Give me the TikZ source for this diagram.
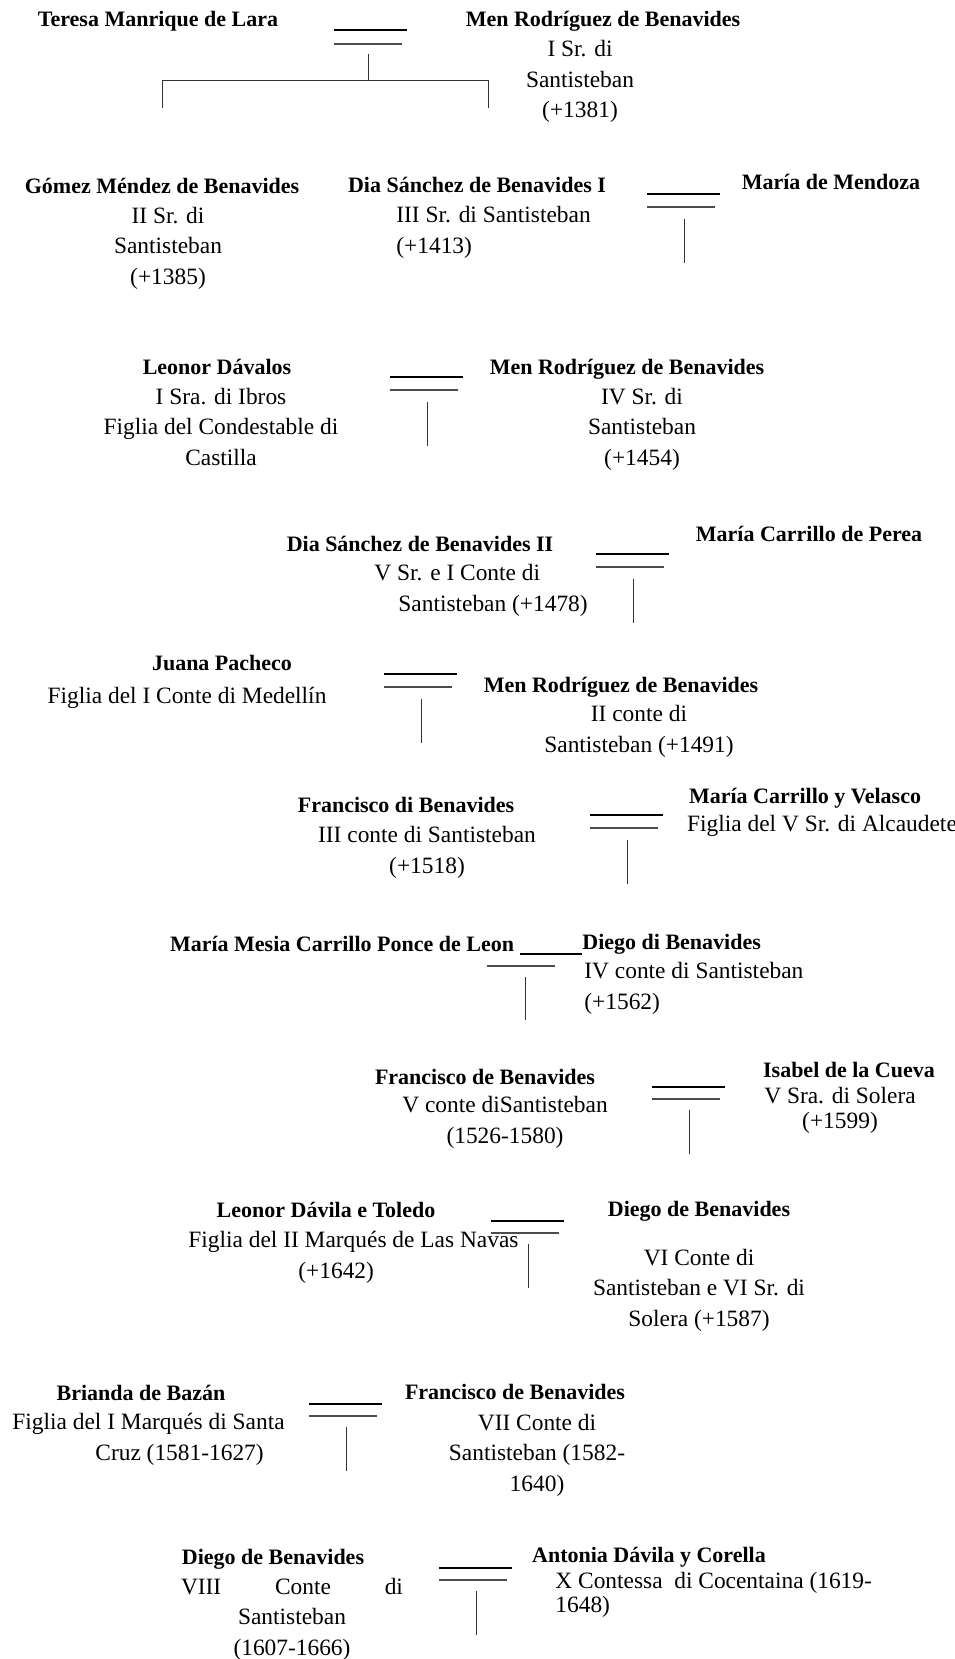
\documentclass[tikz,border=0pt]{standalone}
\usepackage{fontspec}
\setmainfont{Liberation Serif}
\usetikzlibrary{calc,positioning}
\tikzstyle{member}=[
  font={\bfseries\fontsize{11}{15.25}\selectfont},
  inner sep=0pt,
  anchor=base,
]
\tikzstyle{memberinfo}=[
  font={\fontsize{11.7}{15.25}\selectfont},
  inner sep=0pt,
  anchor=base,
  align=center,
]
\tikzstyle{wedding}=[
  draw=black,
  line width=1pt,
]
\tikzstyle{weddingthin}=[
  draw=black!70,
  line width=.6pt,
]
\tikzstyle{descent}=[
  draw=black!80,
  line width=.5pt,
]
\tikzset{
  x=.5pt,
  y=-.5pt,
}
\begin{document}
\begin{tikzpicture}
  \path [use as bounding box, fill=white] (0,0) rectangle (954,1659);
  %% I
  \node (teresa) [member] at (158,27) {Teresa Manrique de Lara};
  \node (men1) [member] at (603,27) {Men Rodríguez de Benavides};
  \node (men1info) [memberinfo] at (580,118) {I Sr. di\\Santisteban\\(+1381)};
  \coordinate (w1) at (334,30);
  \draw [wedding] (w1) -- ++(73,0);
  \draw [weddingthin] ($(w1)+(0,14)$) -- ++(68,0);
  \coordinate (t1) at ($(w1)+(34,24)$);
  \coordinate (t2) at ($(w1)+(34,51)$);
  \coordinate (tl) at (162,81);
  \coordinate (tr) at (488,81);
  \draw [descent] (t1) -- (t2);
  \draw [descent] ($(tl)+(0,27)$) -- (tl) -- (tr) -- ($(tr)+(0,27)$);
  %% II
  \node (gomez) [member] at (162,193) {Gómez Méndez de Benavides};
  \node (gomezinfo) [memberinfo] at (168,284) {II Sr. di\\Santisteban\\(+1385)};
  \node (dia1) [member] at (477,192) {Dia Sánchez de Benavides I};
  \node (dia1info) [memberinfo, align=left, anchor=base west] at (396,253) {III Sr. di Santisteban\\(+1413)};
  \node (mendoza) [member] at (831,189) {María de Mendoza};
  \coordinate (w2) at (647,194);
  \draw [wedding] (w2) -- ++(73,0);
  \draw [weddingthin] ($(w2)+(0,13)$) -- ++(68,0);
  \draw [descent] ($(w2)+(37,25)$) -- ++(0,44);
  %% III
  \node (leonor1) [member] at (217,374) {Leonor Dávalos};
  \node (leonor1info) [memberinfo] at (221,465) {I Sra. di Ibros\\Figlia del Condestable di\\Castilla};
  \node (men3) [member] at (627,374) {Men Rodríguez de Benavides};
  \node (men3info) [memberinfo] at (642,465) {IV Sr. di\\Santisteban\\(+1454)};
  \coordinate (w3) at (390,377);
  \draw [wedding] (w3) -- ++(73,0);
  \draw [weddingthin] ($(w3)+(0,13)$) -- ++(68,0);
  \draw [descent] ($(w3)+(37,25)$) -- ++(0,44);
  %% IV
  \node (dia2) [member] at (420,551) {Dia Sánchez de Benavides II};
  \node (dia2info) [memberinfo, align=left, anchor=base west] at (374,611) {V Sr. e I Conte di\\\hspace*{12pt}Santisteban (+1478)};
  \node (perea) [member] at (809,541) {María Carrillo de Perea};
  \coordinate (w4) at (596,554);
  \draw [wedding] (w4) -- ++(73,0);
  \draw [weddingthin] ($(w4)+(0,13)$) -- ++(68,0);
  \draw [descent] ($(w4)+(37,25)$) -- ++(0,44);
  %% V
  \node (juana) [member] at (222,670) {Juana Pacheco};
  \node (juanainfo) [memberinfo] at (187,703) {Figlia del I Conte di Medellín};
  \node (men5) [member] at (621,692) {Men Rodríguez de Benavides};
  \node (men5info) [memberinfo] at (639,752) {II conte di\\Santisteban (+1491)};
  \coordinate (w5) at (384,674);
  \draw [wedding] (w5) -- ++(73,0);
  \draw [weddingthin] ($(w5)+(0,13)$) -- ++(68,0);
  \draw [descent] ($(w5)+(37,25)$) -- ++(0,44);
  %% VI
  \node (fran6) [member] at (406,812) {Francisco di Benavides};
  \node (fran6info) [memberinfo] at (427,873) {III conte di Santisteban\\(+1518)};
  \node (velasco) [member] at (805,803) {María Carrillo y Velasco};
  \node (velascoinfo) [memberinfo] at (822,831) {Figlia del V Sr. di Alcaudete};
  \coordinate (w6) at (590,815);
  \draw [wedding] (w6) -- ++(73,0);
  \draw [weddingthin] ($(w6)+(0,13)$) -- ++(68,0);
  \draw [descent] ($(w6)+(37,25)$) -- ++(0,44);
  %% VII
  \node (mesia) [member] at (342,951) {María Mesia Carrillo Ponce de Leon};
  \node (diego7) [member, anchor=base west] at (582,949) {Diego di Benavides};
  \node (diego7info) [memberinfo, align=left, anchor=base west] at (584,1009) {IV conte di Santisteban\\(+1562)};
  \coordinate (w7) at (520,954);
  \draw [wedding] (w7) -- (diego7.base west |- w7);
  \draw [weddingthin] ($(w7)+(-33,12)$) -- ++(68,0);
  \draw [descent] ($(w7)+(5,23)$) -- ++(0,43);
  %% VIII
  \node (fran8) [member] at (485,1084) {Francisco de Benavides};
  \node (fran8info) [memberinfo] at (505,1143) {V conte diSantisteban\\(1526-1580)};
  \node (cueva) [member] at (849,1077) {Isabel de la Cueva};
  \node (cuevainfo) [memberinfo, font={\fontsize{11.7}{12.5}\selectfont}] at (840,1128) {V Sra. di Solera\\(+1599)};
  \coordinate (w8) at (652,1087);
  \draw [wedding] (w8) -- ++(73,0);
  \draw [weddingthin] ($(w8)+(0,12)$) -- ++(68,0);
  \draw [descent] ($(w8)+(37,23)$) -- ++(0,44);
  %% IX
  \node (leonor9) [member] at (326,1217) {Leonor Dávila e Toledo};
  \node (leonor9info) [memberinfo, align=left, anchor=base west] at (188,1278) {Figlia del II Marqués de Las Navas\\\hspace*{55pt}(+1642)};
  \node (diego9) [member] at (699,1216) {Diego de Benavides};
  \node (diego9info) [memberinfo] at (699,1326) {VI Conte di\\Santisteban e VI Sr. di\\Solera (+1587)};
  \coordinate (w9) at (491,1221);
  \draw [wedding] (w9) -- ++(73,0);
  \draw [weddingthin] ($(w9)+(0,12)$) -- ++(68,0);
  \draw [descent] ($(w9)+(37,23)$) -- ++(0,44);
  %% X
  \node (brianda) [member] at (141,1400) {Brianda de Bazán};
  \node (briandainfo) [memberinfo, align=left, anchor=base west] at (12,1460) {Figlia del I Marqués di Santa\\\hspace*{41.5pt}Cruz (1581-1627)};
  \node (fran10) [member] at (515,1399) {Francisco de Benavides};
  \node (fran10info) [memberinfo] at (537,1491) {VII Conte di\\Santisteban (1582-\\1640)};
  \coordinate (w10) at (309,1404);
  \draw [wedding] (w10) -- ++(73,0);
  \draw [weddingthin] ($(w10)+(0,12)$) -- ++(68,0);
  \draw [descent] ($(w10)+(37,23)$) -- ++(0,44);
  %% XI
  \node (diego11) [member] at (273,1564) {Diego de Benavides};
  \node (diego11info) [memberinfo] at (292,1655) {\makebox[111pt][s]{VIII\hfill Conte\hfill di}\\Santisteban\\(1607-1666)};
  \node (antonia) [member] at (649,1562) {Antonia Dávila y Corella};
  \node (antoniainfo) [memberinfo, align=left, anchor=base west, font={\fontsize{11.7}{10.5}\selectfont}] at (555,1612) {X Contessa\ \ di Cocentaina (1619-\\1648)};
  \coordinate (w11) at (439,1568);
  \draw [wedding] (w11) -- ++(73,0);
  \draw [weddingthin] ($(w11)+(0,12)$) -- ++(68,0);
  \draw [descent] ($(w11)+(37,23)$) -- ++(0,44);
\end{tikzpicture}
\end{document}
